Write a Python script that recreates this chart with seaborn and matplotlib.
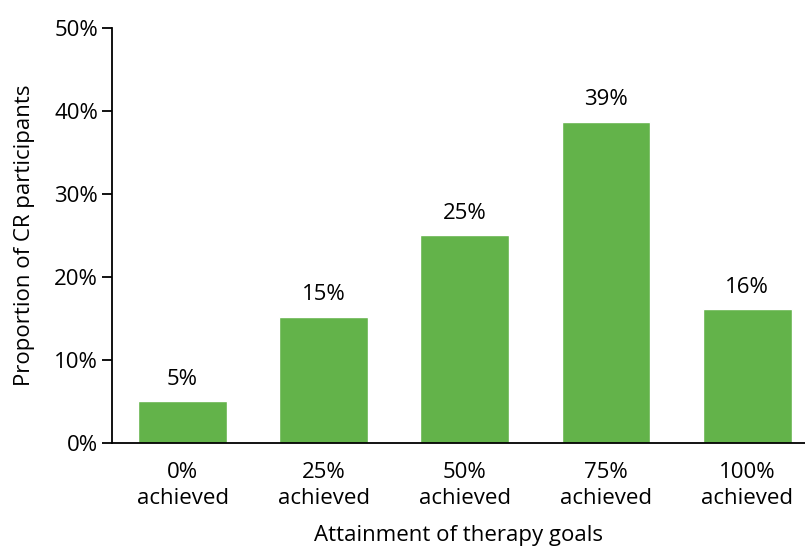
import matplotlib
matplotlib.use("Agg")
import matplotlib.pyplot as plt
import seaborn as sns
import pandas as pd
from matplotlib.ticker import FuncFormatter

categories = ["0%\nachieved", "25%\nachieved", "50%\nachieved", "75%\nachieved", "100%\nachieved"]
proportions = [5.0, 15.2, 25.0, 38.7, 16.1]
bar_labels = ["5%", "15%", "25%", "39%", "16%"]

sns.set_style("white")
plt.rcParams["font.family"] = ["Open Sans", "DejaVu Sans"]
plt.rcParams["text.color"] = "black"
plt.rcParams["axes.labelcolor"] = "black"
plt.rcParams["xtick.color"] = "black"
plt.rcParams["ytick.color"] = "black"

df = pd.DataFrame({"goal": categories, "prop": proportions})
fs = 16

fig = plt.figure(figsize=(8.05, 5.49), dpi=100)
ax = fig.add_axes([0.1391, 0.1931, 0.8609, 0.7559])

sns.barplot(data=df, x="goal", y="prop", color="#63b34a", saturation=1,
            width=0.63, ax=ax)

for i, (v, lab) in enumerate(zip(proportions, bar_labels)):
    ax.text(i, v + 1.4, lab, ha="center", va="bottom", fontsize=fs)

ax.set_ylim(0, 50)
ax.set_xlim(-0.5, 4.41)
ax.set_yticks(range(0, 51, 10))
ax.yaxis.set_major_formatter(FuncFormatter(lambda y, _: f"{y:.0f}%"))
ax.tick_params(axis="y", direction="out", length=7, width=1.3, labelsize=fs, pad=3, left=True)
ax.tick_params(axis="x", length=0, labelsize=fs, pad=14)
for lbl in ax.get_xticklabels():
    lbl.set_linespacing(1.3)

sns.despine(ax=ax, top=True, right=True)
for s in ("left", "bottom"):
    ax.spines[s].set_linewidth(1.3)
    ax.spines[s].set_color("black")

ax.set_xlabel("Attainment of therapy goals", fontsize=fs, labelpad=11)
ax.set_ylabel("Proportion of CR participants", fontsize=fs, labelpad=14)

fig.savefig("out.png", dpi=100)
